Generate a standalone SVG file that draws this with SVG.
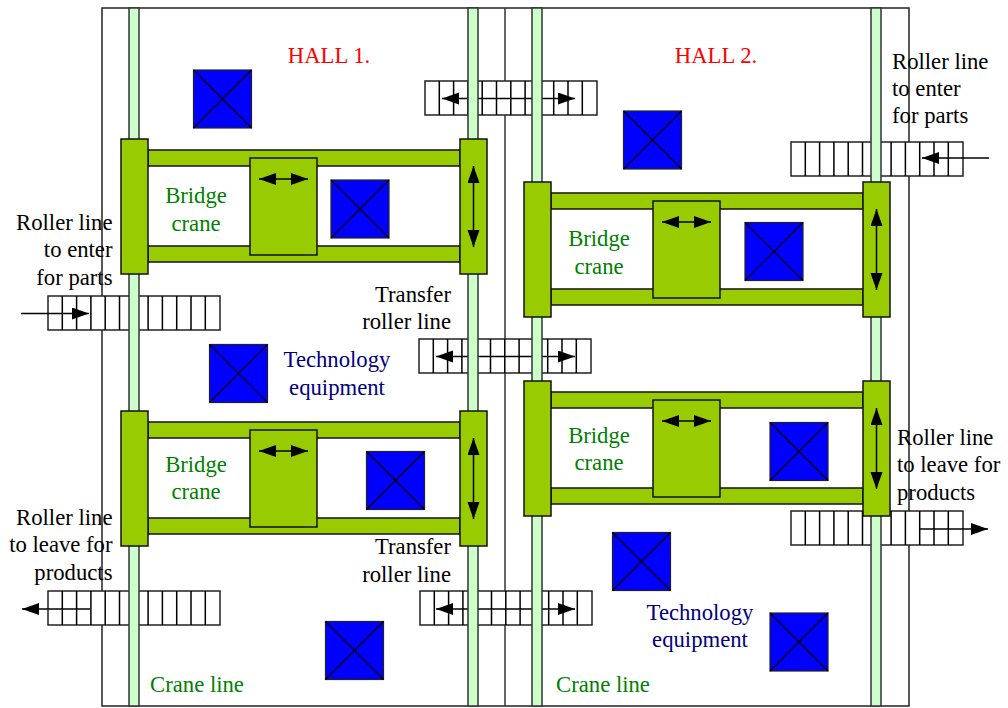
<svg xmlns="http://www.w3.org/2000/svg" xmlns:xlink="http://www.w3.org/1999/xlink" width="1008" height="708" viewBox="0 0 1008 708">
<style>
text{font-family:"Liberation Serif","Times New Roman",serif;font-size:22.700px}
.k{fill:#000}.g{fill:#008000;text-anchor:middle}.b{fill:#000080;text-anchor:middle}.r{fill:#f00;text-anchor:middle}
.e{text-anchor:end}
.ln{stroke:#000;stroke-width:1.5;fill:none}
.rail{fill:#ccffcc;stroke:#333;stroke-width:1.5}
.cr{fill:#99cc00;stroke:#111;stroke-width:1.5}
.eq{fill:#0000ff;stroke:#222;stroke-width:1.2}
.x{stroke:#000;stroke-width:1.2;fill:none}
.rc{fill:#fff;stroke:#222;stroke-width:1.5}
</style>
<defs>
<marker id="ah" markerUnits="userSpaceOnUse" markerWidth="18" markerHeight="14" refX="17" refY="6" orient="auto-start-reverse"><path d="M0 0L17 6L0 12Z" fill="#000"/></marker>
<g id="rl"><rect class="rc" width="172" height="34"/><path class="ln" d="M14.3 0v34M28.6 0v34M42.9 0v34M57.2 0v34M71.5 0v34M85.8 0v34M100.1 0v34M114.4 0v34M128.7 0v34M143 0v34M157.3 0v34"/></g>
<g id="crn">
<rect class="cr" x="27" y="11" width="312" height="16"/>
<rect class="cr" x="27" y="107" width="312" height="16"/>
<rect class="cr" x="0" y="0" width="27" height="135"/>
<rect class="cr" x="339" y="0" width="27" height="135"/>
<rect class="cr" x="129" y="19" width="67" height="97"/>
<path class="ln" d="M138 40H187" marker-start="url(#ah)" marker-end="url(#ah)"/>
<path class="ln" d="M352.500 27V108" marker-start="url(#ah)" marker-end="url(#ah)"/>
</g>
</defs>
<g id="frame"><rect x="102" y="8" width="807" height="698" fill="#fff" stroke="#222" stroke-width="1.500"/><path d="M505 8V706" stroke="#333" stroke-width="1.500"/></g>
<g id="rollers">
<use id="roller-left-in" xlink:href="#rl" href="#rl" x="48" y="296"/>
<use id="roller-left-out" xlink:href="#rl" href="#rl" x="48" y="591"/>
<use id="roller-top-mid" xlink:href="#rl" href="#rl" x="425" y="81"/>
<use id="roller-transfer-1" xlink:href="#rl" href="#rl" x="419" y="339"/>
<use id="roller-transfer-2" xlink:href="#rl" href="#rl" x="420" y="591"/>
<use id="roller-right-in" xlink:href="#rl" href="#rl" x="791" y="142"/>
<use id="roller-right-out" xlink:href="#rl" href="#rl" x="791" y="511"/>
</g>
<g id="connectors">
<path class="ln" d="M21 313.500H89" marker-end="url(#ah)"/>
<path class="ln" d="M90 609H22" marker-end="url(#ah)"/>
<path class="ln" d="M442 98.500H575" marker-start="url(#ah)" marker-end="url(#ah)"/>
<path class="ln" d="M436 356.500H575" marker-start="url(#ah)" marker-end="url(#ah)"/>
<path class="ln" d="M436 609H575" marker-start="url(#ah)" marker-end="url(#ah)"/>
<path class="ln" d="M989 158H922" marker-end="url(#ah)"/>
<path class="ln" d="M920 529H988" marker-end="url(#ah)"/>
</g>
<g id="crane-lines">
<rect id="rail-1" class="rail" x="129" y="8" width="10" height="698"/>
<rect id="rail-2" class="rail" x="468" y="8" width="10" height="698"/>
<rect id="rail-3" class="rail" x="532" y="8" width="10" height="698"/>
<rect id="rail-4" class="rail" x="871" y="8" width="10" height="698"/>
</g>
<g id="cranes">
<use id="crane-1" xlink:href="#crn" href="#crn" x="121" y="139"/>
<use id="crane-2" xlink:href="#crn" href="#crn" x="121" y="411"/>
<use id="crane-3" xlink:href="#crn" href="#crn" x="524" y="182"/>
<use id="crane-4" xlink:href="#crn" href="#crn" x="524" y="381"/>
</g>
<g id="equipment">
<g id="eq-1"><rect class="eq" x="193.500" y="70" width="58" height="58"/><line class="x" x1="193.500" y1="70" x2="251.500" y2="128"/><line class="x" x1="251.500" y1="70" x2="193.500" y2="128"/></g>
<g id="eq-2"><rect class="eq" x="331" y="180" width="58" height="58"/><line class="x" x1="331" y1="180" x2="389" y2="238"/><line class="x" x1="389" y1="180" x2="331" y2="238"/></g>
<g id="eq-3"><rect class="eq" x="209.500" y="344.500" width="58" height="58"/><line class="x" x1="209.500" y1="344.500" x2="267.500" y2="402.500"/><line class="x" x1="267.500" y1="344.500" x2="209.500" y2="402.500"/></g>
<g id="eq-4"><rect class="eq" x="366.500" y="451.500" width="58" height="58"/><line class="x" x1="366.500" y1="451.500" x2="424.500" y2="509.500"/><line class="x" x1="424.500" y1="451.500" x2="366.500" y2="509.500"/></g>
<g id="eq-5"><rect class="eq" x="325.500" y="621.500" width="58" height="58"/><line class="x" x1="325.500" y1="621.500" x2="383.500" y2="679.500"/><line class="x" x1="383.500" y1="621.500" x2="325.500" y2="679.500"/></g>
<g id="eq-6"><rect class="eq" x="623.500" y="111" width="58" height="58"/><line class="x" x1="623.500" y1="111" x2="681.500" y2="169"/><line class="x" x1="681.500" y1="111" x2="623.500" y2="169"/></g>
<g id="eq-7"><rect class="eq" x="745" y="222.500" width="58" height="58"/><line class="x" x1="745" y1="222.500" x2="803" y2="280.500"/><line class="x" x1="803" y1="222.500" x2="745" y2="280.500"/></g>
<g id="eq-8"><rect class="eq" x="770" y="422.500" width="58" height="58"/><line class="x" x1="770" y1="422.500" x2="828" y2="480.500"/><line class="x" x1="828" y1="422.500" x2="770" y2="480.500"/></g>
<g id="eq-9"><rect class="eq" x="612.500" y="532.500" width="58" height="58"/><line class="x" x1="612.500" y1="532.500" x2="670.500" y2="590.500"/><line class="x" x1="670.500" y1="532.500" x2="612.500" y2="590.500"/></g>
<g id="eq-10"><rect class="eq" x="770" y="613" width="58" height="58"/><line class="x" x1="770" y1="613" x2="828" y2="671"/><line class="x" x1="828" y1="613" x2="770" y2="671"/></g>
</g>
<g id="labels">
<text class="r" x="329" y="63">HALL 1.</text>
<text class="r" x="716" y="63">HALL 2.</text>
<text class="g" x="196" y="203">Bridge</text><text class="g" x="196" y="231">crane</text>
<text class="g" x="196" y="472">Bridge</text><text class="g" x="196" y="499">crane</text>
<text class="g" x="599" y="246">Bridge</text><text class="g" x="599" y="274">crane</text>
<text class="g" x="599" y="443">Bridge</text><text class="g" x="599" y="470">crane</text>
<text class="g" x="197" y="692">Crane line</text>
<text class="g" x="603" y="692">Crane line</text>
<text class="b" x="337" y="367">Technology</text><text class="b" x="337" y="395">equipment</text>
<text class="b" x="700" y="620">Technology</text><text class="b" x="700" y="647">equipment</text>
<text class="k e" x="112.500" y="230">Roller line</text><text class="k e" x="112.500" y="257">to enter</text><text class="k e" x="112.500" y="285">for parts</text>
<text class="k e" x="112.500" y="525">Roller line</text><text class="k e" x="112.500" y="552">to leave for</text><text class="k e" x="112.500" y="580">products</text>
<text class="k e" x="451" y="302">Transfer</text><text class="k e" x="451" y="329">roller line</text>
<text class="k e" x="451" y="554">Transfer</text><text class="k e" x="451" y="582">roller line</text>
<text class="k" x="892" y="69">Roller line</text><text class="k" x="892" y="96">to enter</text><text class="k" x="892" y="123">for parts</text>
<text class="k" x="897" y="445">Roller line</text><text class="k" x="897" y="472">to leave for</text><text class="k" x="897" y="500">products</text>
</g>
</svg>
